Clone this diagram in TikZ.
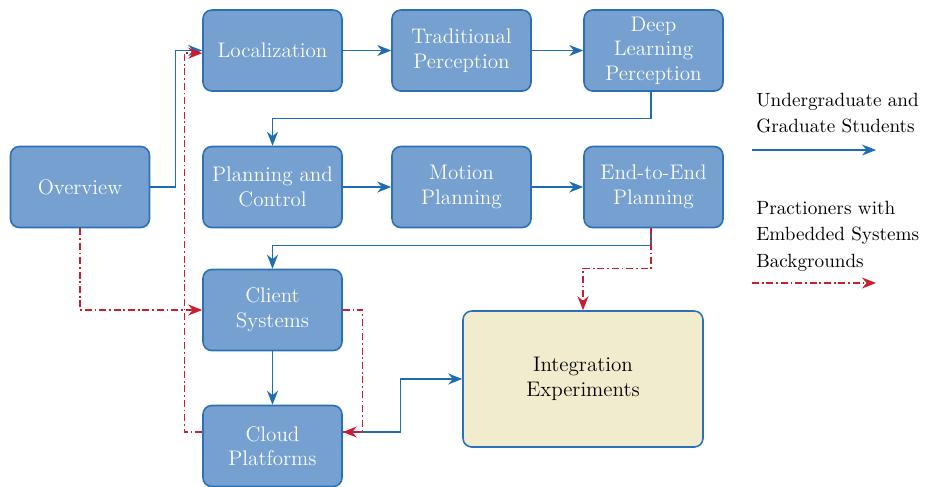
\documentclass[tikz,border=0pt]{standalone}
\usetikzlibrary{positioning,calc,arrows.meta}
\definecolor{cBox}    {RGB}{117,160,208}
\definecolor{cEdge}   {RGB}{ 44,112,182}
\definecolor{cBlue}   {RGB}{ 30,108,180}
\definecolor{cRed}    {RGB}{204, 28, 48}
\definecolor{cCream}  {RGB}{241,236,206}

\begin{document}
\begin{tikzpicture}

% ---------------------------------------------------------------- styles
\tikzset{
  blk/.style    = {rounded corners=5pt, draw=cEdge, line width=0.9pt,
                   fill=cBox, align=center, text=white, font=\large,
                   minimum width=2.78cm, minimum height=1.62cm,
                   inner sep=2pt},
  expt/.style   = {blk, fill=cCream, text=black,
                   minimum width=4.8cm, minimum height=2.72cm},
  legend/.style = {font=\fontsize{10.9}{15}\selectfont, anchor=west,
                   align=left, text=black, inner sep=0pt},
  line/.style   = {draw=cBlue, line width=0.8pt},
  arr/.style    = {line, -{Stealth[length=2.8mm,width=2.2mm]}},
  rline/.style  = {draw=cRed, line width=0.8pt,
                   dash pattern=on 4pt off 1.6pt on 1pt off 1.6pt},
  rarr/.style   = {rline, -{Stealth[length=2.8mm,width=2.2mm]}},
}

\useasboundingbox (0,0) rectangle (18.58,-9.72);

% ================================================================ row 1
\node[blk] (ov)  at (1.60,-3.74) {Overview};
\node[blk] (loc) at (5.45,-1.01) {Localization};
\node[blk] (tp)  at (9.23,-1.01) {Traditional\\Perception};
\node[blk] (dl)  at (13.07,-1.01) {Deep\\Learning\\Perception};

% ================================================================ row 2
\node[blk] (pc)  at (5.45,-3.74) {Planning and\\Control};
\node[blk] (mp)  at (9.23,-3.74) {Motion\\Planning};
\node[blk] (ee)  at (13.07,-3.74) {End-to-End\\Planning};

% ============================================================ systems
\node[blk] (cs)  at (5.45,-6.20) {Client\\Systems};
\node[blk] (cp)  at (5.45,-8.92) {Cloud\\Platforms};
\node[expt] (ie) at (11.66,-7.58) {Integration\\Experiments};

% ------------------------------------------------- blue track
\draw[arr] (ov.east) -- ++(0.5,0) |- (loc.west);
\draw[arr] (loc) -- (tp);
\draw[arr] (tp) -- (dl);
\draw[arr] ([xshift=-1.5pt]dl.south) -- ++(0,-0.53) -| (pc.north);
\draw[arr] (pc) -- (mp);
\draw[arr] (mp) -- (ee);
\draw[arr] ([xshift=-1.5pt]ee.south) -- ++(0,-0.34) -| (cs.north);
\draw[arr] (cs) -- (cp);
\draw[arr] ([yshift=0.28cm]cp.east) -- ++(1.16,0) |- (ie.west);

% ------------------------------------------------- red track
\draw[rarr] (ov.south) |- (cs.west);
\draw[rarr] ([yshift=0.28cm]cp.west) -- ++(-0.36,0)
            |- ([yshift=-1.5pt]loc.west);
\draw[rarr] (cs.east) -- ++(0.4,0) |- ([yshift=0.28cm]cp.east);
\draw[rarr] ([xshift=-1.5pt]ee.south) -- ++(0,-0.8) -| (ie.north);

% ---------------------------------------------------------------- legend
\node[legend] (lgu) at (15.12,-2.26) {Undergraduate and\\Graduate Students};
\coordinate (lgua) at (15.04,-3.00);
\draw[arr] (lgua) -- ++(2.48,0);

\node[legend] (lgp) at (15.12,-4.72)
  {Practioners with\\Embedded Systems\\Backgrounds};
\coordinate (lgpa) at (15.04,-5.66);
\draw[rarr] (lgpa) -- ++(2.48,0);

\end{tikzpicture}
\end{document}
